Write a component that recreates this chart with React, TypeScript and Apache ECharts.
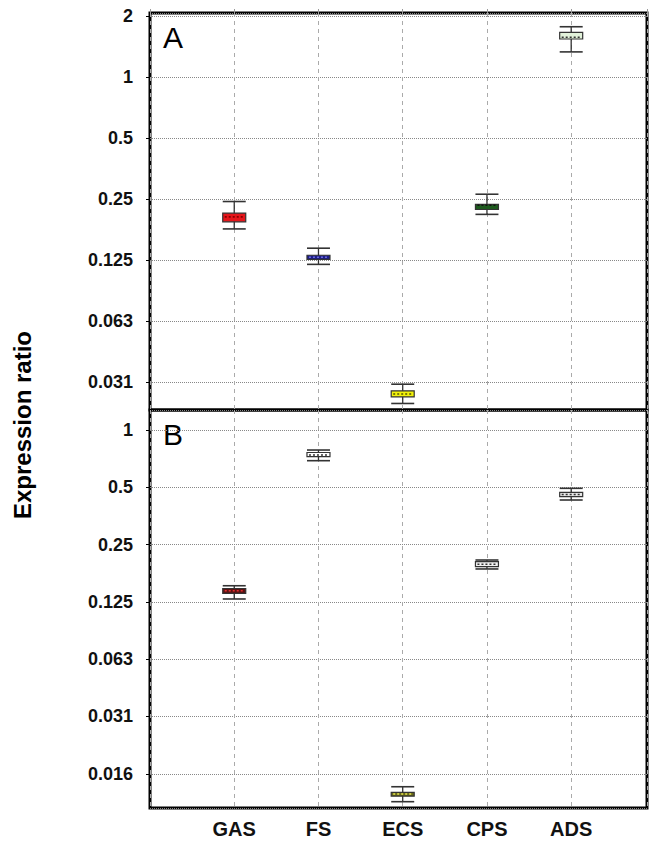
import React, { useEffect, useRef } from 'react';
import * as echarts from 'echarts';

const categories = ['GAS', 'FS', 'ECS', 'CPS', 'ADS'];
const tickValues = [2, 1, 0.5, 0.25, 0.125, 0.0625, 0.03125, 0.015625];
const tickLabels = ['2', '1', '0.5', '0.25', '0.125', '0.063', '0.031', '0.016'];

// Panel A (expression ratio, log2 scale)
const aHigh = [0.243, 0.143, 0.0305, 0.264, 1.77];
const aQ3 = [0.213, 0.132, 0.0283, 0.235, 1.66];
const aMedian = [0.204, 0.129, 0.0273, 0.233, 1.57];
const aQ1 = [0.193, 0.126, 0.0264, 0.222, 1.54];
const aLow = [0.178, 0.119, 0.0245, 0.21, 1.33];

// Panel B
const bHigh = [0.152, 0.785, 0.01336, 0.2075, 0.494];
const bQ3 = [0.147, 0.762, 0.01247, 0.2033, 0.4705];
const bMedian = [0.143, 0.739, 0.01224, 0.197, 0.458];
const bQ1 = [0.1387, 0.7256, 0.01192, 0.1914, 0.4464];
const bLow = [0.1295, 0.69, 0.01115, 0.1862, 0.4288];

const aFill = ['#e5161b', '#1c1c8c', '#f2f20a', '#1e5a1e', '#e2f2da'];
const aMedColor = ['#8a0000', '#6a6ad8', '#555500', '#111111', '#333333'];
const bFill = ['#5c1212', '#ffffff', '#66661a', '#f2f2f2', '#e6e6e6'];
const bMedColor = ['#e03030', '#333333', '#e8e850', '#333333', '#333333'];

function rows(low: number[], q1: number[], med: number[], q3: number[], high: number[]) {
  return categories.map((_, i) => [i + 1, low[i], q1[i], med[i], q3[i], high[i]]);
}

function makeRender(fills: string[], meds: string[]) {
  return (params: any, api: any) => {
    const x = api.value(0);
    const pLow = api.coord([x, api.value(1)]);
    const pQ1 = api.coord([x, api.value(2)]);
    const pMed = api.coord([x, api.value(3)]);
    const pQ3 = api.coord([x, api.value(4)]);
    const pHigh = api.coord([x, api.value(5)]);
    const hw = 11.5;
    const cx = pLow[0];
    const i = params.dataIndex;
    return {
      type: 'group',
      children: [
        { type: 'line', shape: { x1: cx, y1: pHigh[1], x2: cx, y2: pLow[1] }, style: { stroke: '#333', lineWidth: 1.3 } },
        { type: 'line', shape: { x1: cx - hw, y1: pHigh[1], x2: cx + hw, y2: pHigh[1] }, style: { stroke: '#333', lineWidth: 1.6 } },
        { type: 'line', shape: { x1: cx - hw, y1: pLow[1], x2: cx + hw, y2: pLow[1] }, style: { stroke: '#333', lineWidth: 1.6 } },
        {
          type: 'rect',
          shape: { x: cx - hw, y: pQ3[1], width: 2 * hw, height: pQ1[1] - pQ3[1] },
          style: { fill: fills[i], stroke: '#333', lineWidth: 1.2 },
        },
        {
          type: 'line',
          shape: { x1: cx - hw + 2, y1: pMed[1], x2: cx + hw - 2, y2: pMed[1] },
          style: { stroke: meds[i], lineWidth: 1.6, lineDash: [2, 2] },
        },
      ],
    };
  };
}

const labelFor = (v: number) => {
  for (let i = 0; i < tickValues.length; i++) {
    if (Math.abs(Math.log2(v) - Math.log2(tickValues[i])) < 0.01) return tickLabels[i];
  }
  return '';
};

const font = 'Liberation Sans';

function yAxis(gridIndex: number, min: number, max: number) {
  return {
    gridIndex,
    type: 'log',
    logBase: 2,
    min,
    max,
    axisLine: { show: false },
    axisTick: { show: true, length: 4, lineStyle: { color: '#000' } },
    axisLabel: {
      formatter: labelFor,
      showMinLabel: false,
      showMaxLabel: false,
      fontFamily: font,
      fontWeight: 'bold',
      fontSize: 18,
      color: '#111',
      margin: 17,
    },
    splitLine: { show: true, lineStyle: { color: '#888', type: 'dotted', width: 1 } },
  };
}

function xAxis(gridIndex: number, showLabels: boolean) {
  return {
    gridIndex,
    type: 'value',
    position: showLabels ? 'bottom' : 'top',
    min: 0,
    max: 5.9,
    interval: 1,
    axisLine: { show: false },
    axisTick: { show: !showLabels, length: 4, lineStyle: { color: '#999' } },
    axisLabel: {
      show: showLabels,
      formatter: (v: number) => (Number.isInteger(v) && v >= 1 && v <= 5 ? categories[v - 1] : ''),
      showMaxLabel: false,
      fontFamily: font,
      fontWeight: 'bold',
      fontSize: 20,
      color: '#111',
      margin: 11,
    },
    splitLine: { show: true, lineStyle: { color: '#aaa', type: [4, 4], width: 1 } },
  };
}

export default function App() {
  const ref = useRef<HTMLDivElement>(null);
  useEffect(() => {
    const chart = echarts.init(ref.current!, null, { renderer: 'svg' });
    chart.setOption({
      animation: false,
      backgroundColor: '#fff',
      grid: [
        { left: 150, top: 13, width: 497, height: 397, show: true, borderColor: '#000', borderWidth: 3, backgroundColor: 'transparent' },
        { left: 150, top: 410, width: 497, height: 398, show: true, borderColor: '#000', borderWidth: 3, backgroundColor: 'transparent' },
      ],
      xAxis: [xAxis(0, false), xAxis(1, true)],
      yAxis: [yAxis(0, 0.02275, 2.069), yAxis(1, 0.01033, 1.274)],
      series: [
        {
          type: 'custom',
          xAxisIndex: 0,
          yAxisIndex: 0,
          renderItem: makeRender(aFill, aMedColor),
          encode: { x: 0, y: [1, 2, 3, 4, 5] },
          data: rows(aLow, aQ1, aMedian, aQ3, aHigh),
          clip: false,
          z: 10,
        },
        {
          type: 'custom',
          xAxisIndex: 1,
          yAxisIndex: 1,
          renderItem: makeRender(bFill, bMedColor),
          encode: { x: 0, y: [1, 2, 3, 4, 5] },
          data: rows(bLow, bQ1, bMedian, bQ3, bHigh),
          clip: false,
          z: 10,
        },
      ],
      graphic: [
        { type: 'text', left: 163, top: 22, style: { text: 'A', font: `30px "${font}"`, fill: '#000' } },
        { type: 'text', left: 163, top: 419, style: { text: 'B', font: `30px "${font}"`, fill: '#000' } },
        {
          type: 'text',
          x: 22,
          y: 425,
          rotation: Math.PI / 2,
          style: {
            text: 'Expression ratio',
            font: `bold 24px "${font}"`,
            fill: '#000',
            textAlign: 'center',
            textVerticalAlign: 'middle',
          },
        },
      ],
    });
    return () => chart.dispose();
  }, []);
  return <div ref={ref} style={{ position: 'absolute', left: 0, top: 0, width: 656, height: 847 }} />;
}
